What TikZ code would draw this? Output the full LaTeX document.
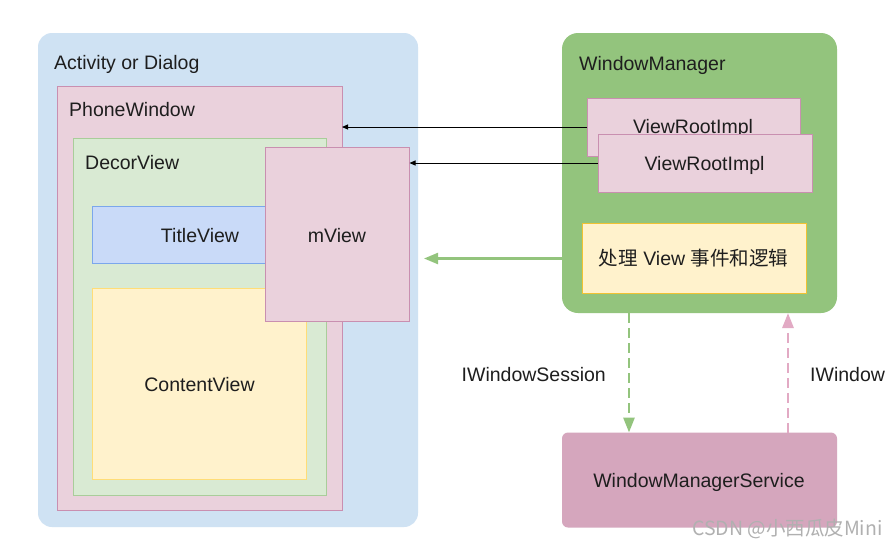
\documentclass[tikz,border=0pt]{standalone}
\usepackage{fontspec}
\setmainfont{Liberation Sans}
\newfontfamily\cjk{Noto Sans CJK SC}
\usetikzlibrary{arrows.meta}
\definecolor{bluebg}{HTML}{CFE2F3}
\definecolor{pinkfill}{HTML}{EAD1DC}
\definecolor{pinkline}{HTML}{C98FB0}
\definecolor{greenfill}{HTML}{D9EAD3}
\definecolor{greenline}{HTML}{A9CD9A}
\definecolor{bluefill}{HTML}{C9DAF8}
\definecolor{blueline}{HTML}{7BA7EC}
\definecolor{yellowfill}{HTML}{FFF2CC}
\definecolor{yellowline}{HTML}{FFDD77}
\definecolor{amberline}{HTML}{F1C232}
\definecolor{wmgreen}{HTML}{93C47D}
\definecolor{wmsfill}{HTML}{D5A6BD}
\definecolor{dashpink}{HTML}{E2AAC4}
\definecolor{txt}{HTML}{1E1E1E}
\definecolor{wmark}{HTML}{B0B0B0}
\tikzset{
  region/.style={inner sep=0pt, outer sep=0pt, anchor=north west},
  boxed/.style={region, draw, line width=0.9pt},
  lbl/.style={inner sep=0pt, text=txt, font=\fontsize{19.5}{22}\selectfont},
  thinarrow/.style={draw=black, line width=0.9pt, -{Triangle[length=6pt,width=5pt]}},
  greenarrow/.style={draw=wmgreen, line width=2.2pt, -{Triangle[length=14pt,width=11pt]}},
  dasharrow/.style={line width=2.8pt, dash pattern=on 10pt off 5pt}
}
\begin{document}
\begin{tikzpicture}[x=1pt,y=-1pt]
\useasboundingbox[fill=white] (0,0) rectangle (896,547);

% Left: Activity or Dialog
\node[region, fill=bluebg, rounded corners=14pt, minimum width=380pt, minimum height=494pt] (act) at (38,33) {};
\node[lbl, anchor=base west] (actT) at (54,69) {Activity or Dialog};
\node[boxed, draw=pinkline, fill=pinkfill, minimum width=285pt, minimum height=424pt] (pw) at (57,86) {};
\node[lbl, anchor=base west] (pwT) at (69,116.5) {PhoneWindow};
\node[boxed, draw=greenline, fill=greenfill, minimum width=253pt, minimum height=357pt] (decor) at (73,138) {};
\node[lbl, anchor=base west] (decorT) at (85,169) {DecorView};
\node[boxed, draw=blueline, fill=bluefill, minimum width=190pt, minimum height=57pt] (title) at (92,206) {};
\node[lbl, anchor=base] (titleT) at (200,242) {TitleView};
\node[boxed, draw=yellowline, fill=yellowfill, minimum width=214pt, minimum height=191pt] (content) at (92,288) {};
\node[lbl, anchor=base] (contentT) at (199.5,391.5) {ContentView};
\node[boxed, draw=pinkline, fill=pinkfill, minimum width=144pt, minimum height=174pt] (mview) at (265.5,147) {};
\node[lbl, anchor=base] (mviewT) at (337,242) {mView};

% Right: WindowManager
\node[region, fill=wmgreen, rounded corners=16pt, minimum width=275pt, minimum height=280pt] (wm) at (562,33) {};
\node[lbl, anchor=base west] (wmT) at (579,70) {WindowManager};
\node[boxed, draw=pinkline, fill=pinkfill, minimum width=213pt, minimum height=58pt] (vri1) at (587,98) {};
\node[lbl, anchor=base] (vri1T) at (693,133.5) {ViewRootImpl};
\node[boxed, draw=pinkline, fill=pinkfill, minimum width=214pt, minimum height=58pt] (vri2) at (598,134) {};
\node[lbl, anchor=base] (vri2T) at (704.5,170.5) {ViewRootImpl};
\node[boxed, draw=amberline, fill=yellowfill, minimum width=224pt, minimum height=70pt] (evt) at (582,223.5) {};
\node[lbl, anchor=base] (evtT) at (693.5,265.5) {{\cjk\fontsize{19.5}{22}\selectfont 处理} View {\cjk\fontsize{19.5}{22}\selectfont 事件和逻辑}};

% WindowManagerService
\node[region, fill=wmsfill, rounded corners=6pt, minimum width=275pt, minimum height=95pt] (wms) at (562,432.5) {};
\node[lbl, anchor=base] (wmsT) at (699,487) {WindowManagerService};

% Connectors
\draw[thinarrow] (vri1.west) -- (vri1.west -| pw.east);
\draw[thinarrow] (vri2.west) -- (vri2.west -| mview.east);
\coordinate (gtip) at (424,258.5);
\draw[greenarrow] (wm.west |- evt.west) -- (gtip);
\draw[dasharrow, draw=wmgreen, -{Triangle[length=15pt,width=11pt,fill=wmgreen]}] ([xshift=67pt]wm.south west) -- ([xshift=67pt]wms.north west);
\draw[dasharrow, draw=dashpink, -{Triangle[length=15pt,width=11pt,fill=dashpink]}] ([xshift=226pt]wms.north west) -- ([xshift=226pt]wm.south west);

% Labels
\node[lbl, anchor=base west] (sessT) at (461.5,381) {IWindowSession};
\node[lbl, anchor=base west] (iwT) at (810,381) {IWindow};

% Watermark
\node[inner sep=0pt, anchor=base west, text=wmark, font=\cjk\fontsize{19.5}{22}\selectfont] (mark) at (692,535) {CSDN @小西瓜皮Mini};
\end{tikzpicture}
\end{document}
